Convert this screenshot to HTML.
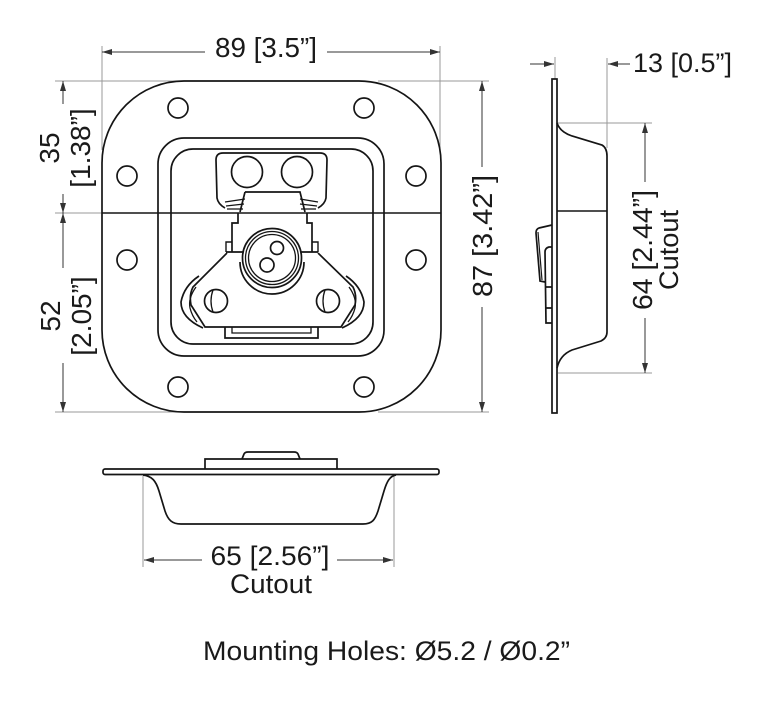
<!DOCTYPE html>
<html>
<head>
<meta charset="utf-8">
<style>
html,body{margin:0;padding:0;background:#fff;}
svg{display:block;}
text{font-family:"Liberation Sans",Arial,sans-serif;fill:#1a1a1a;}
</style>
</head>
<body>
<svg width="774" height="704" viewBox="0 0 774 704" xmlns="http://www.w3.org/2000/svg">
<defs>
<marker id="a" viewBox="0 0 10 6" refX="10" refY="3" markerWidth="10" markerHeight="6" markerUnits="userSpaceOnUse" orient="auto">
<path d="M0,0 L10,3 L0,6 Z" fill="#333"/>
</marker>
</defs>

<!-- ============ FRONT VIEW ============ -->
<g fill="none" stroke="#999" stroke-width="1">
  <!-- extension lines -->
  <line x1="102" y1="46" x2="102" y2="150"/>
  <line x1="440" y1="46" x2="440" y2="150"/>
  <line x1="55" y1="81" x2="185" y2="81"/>
  <line x1="378" y1="81" x2="489" y2="81"/>
  <line x1="55" y1="412" x2="185" y2="412"/>
  <line x1="378" y1="412" x2="489" y2="412"/>
  <line x1="55" y1="213" x2="102" y2="213"/>
</g>
<g fill="none" stroke="#333" stroke-width="1">
  <!-- 89 dim -->
  <line x1="205" y1="52" x2="102" y2="52" marker-end="url(#a)"/>
  <line x1="327" y1="52" x2="440" y2="52" marker-end="url(#a)"/>
  <!-- 35 dim -->
  <line x1="63" y1="104" x2="63" y2="81" marker-end="url(#a)"/>
  <line x1="63" y1="194" x2="63" y2="213" marker-end="url(#a)"/>
  <!-- 52 dim -->
  <line x1="63" y1="268" x2="63" y2="213" marker-end="url(#a)"/>
  <line x1="63" y1="363" x2="63" y2="412" marker-end="url(#a)"/>
  <!-- 87 dim -->
  <line x1="482" y1="167" x2="482" y2="81" marker-end="url(#a)"/>
  <line x1="482" y1="307" x2="482" y2="412" marker-end="url(#a)"/>
</g>

<g fill="none" stroke="#151515" stroke-width="1.7">
  <!-- plate outline -->
  <path d="M184,81 L359,81 A82,82 0 0 1 441,163 L441,330 A82,82 0 0 1 359,412 L184,412 A82,82 0 0 1 102,330 L102,163 A82,82 0 0 1 184,81 Z"/>
  <!-- centre line -->
  <line x1="102" y1="213" x2="441" y2="213" stroke-width="1.4"/>
  <!-- holes -->
  <circle cx="178" cy="108" r="10"/>
  <circle cx="364" cy="108" r="10"/>
  <circle cx="127" cy="176" r="10"/>
  <circle cx="416" cy="176" r="10"/>
  <circle cx="127" cy="260" r="10"/>
  <circle cx="416" cy="260" r="10"/>
  <circle cx="178" cy="387" r="10"/>
  <circle cx="364" cy="387" r="10"/>
  <!-- recess -->
  <rect x="158" y="138" width="226" height="218" rx="26" ry="26"/>
  <rect x="171" y="149" width="202" height="195" rx="22" ry="22"/>

  <!-- handle bracket -->
  <path d="M216,160 Q216,153 223,153 L320,153 Q327,153 327,160 L326,198 Q325,204 318,208 M216,160 L217,198 Q218,204 225,208"/>
  <circle cx="247" cy="172" r="15.5"/>
  <circle cx="297" cy="172" r="15.5"/>
  <!-- tabs -->
  <path d="M225,202 L245,199 M226,206 L244,204 M227,209 L243,209 M318,202 L300,199 M317,206 L300,204 M316,209 L301,209" stroke-width="1.3"/>
  <!-- centre block -->
  <path d="M245,192 L300,192 L305,212 M245,192 L240,212"/>
  <path d="M238,213 L238,223 L232,223 L232,252 M307,213 L307,223 L312,223 L312,252"/>
  <path d="M226,252 L226,242 L232,242 M318,252 L318,242 L312,242" stroke-width="1.4"/>
  <!-- wing -->
  <path d="M226,252 L318,252 M227,253 L193,287 Q189,295 191,305 L205,327 L341,327 L355,305 Q357,295 353,287 L318,253"/>
  <!-- lobes -->
  <path d="M199,276 Q184,286 181,302 Q181,318 203,328"/>
  <path d="M196,287 Q188,298 190,308 Q192,316 197,322" stroke-width="1.3"/>
  <path d="M346,276 Q361,286 364,302 Q364,318 342,328"/>
  <path d="M349,287 Q357,298 355,308 Q353,316 348,322" stroke-width="1.3"/>
  <!-- screws -->
  <circle cx="216" cy="301" r="11.5"/>
  <path d="M213,290 Q209,301 213,312" stroke-width="1.3"/>
  <circle cx="328" cy="301" r="11.5"/>
  <path d="M325,290 Q321,301 325,312" stroke-width="1.3"/>
  <!-- disk -->
  <path d="M240,262 A32,32 0 0 0 304,262" fill="#fff"/>
  <circle cx="272" cy="258" r="29.5" fill="#fff"/>
  <circle cx="272" cy="258" r="26.5" stroke-width="1.3"/>
  <circle cx="272" cy="258" r="23.5" stroke-width="1.3"/>
  <circle cx="277" cy="248" r="6.5"/>
  <circle cx="267" cy="265" r="7"/>
  <!-- bottom piece -->
  <path d="M225,327 L225,338 L318,338 L318,327"/>
  <path d="M232,327 L232,333 L311,333 L311,327" stroke-width="1.3"/>
</g>

<text x="266" y="57" font-size="28" text-anchor="middle" textLength="102" lengthAdjust="spacingAndGlyphs">89 [3.5”]</text>
<g transform="translate(59,148) rotate(-90)">
  <text x="0" y="0" font-size="28" text-anchor="middle">35</text>
  <text x="0" y="31" font-size="28" text-anchor="middle">[1.38”]</text>
</g>
<g transform="translate(60,316) rotate(-90)">
  <text x="0" y="0" font-size="28" text-anchor="middle">52</text>
  <text x="0" y="31" font-size="28" text-anchor="middle">[2.05”]</text>
</g>
<g transform="translate(492,236) rotate(-90)">
  <text x="0" y="0" font-size="28" text-anchor="middle" textLength="122" lengthAdjust="spacingAndGlyphs">87 [3.42”]</text>
</g>

<!-- ============ SIDE VIEW ============ -->
<g fill="none" stroke="#999" stroke-width="1">
  <line x1="555" y1="57" x2="555" y2="79"/>
  <line x1="607" y1="58" x2="607" y2="148"/>
  <line x1="558" y1="123" x2="652" y2="123"/>
  <line x1="558" y1="373" x2="652" y2="373"/>
</g>
<g fill="none" stroke="#333" stroke-width="1">
  <line x1="530" y1="64" x2="554" y2="64" marker-end="url(#a)"/>
  <line x1="630" y1="64" x2="608" y2="64" marker-end="url(#a)"/>
  <line x1="645" y1="182" x2="645" y2="123" marker-end="url(#a)"/>
  <line x1="645" y1="318" x2="645" y2="373" marker-end="url(#a)"/>
</g>
<g fill="none" stroke="#151515" stroke-width="1.7">
  <rect x="552" y="79" width="5" height="334"/>
  <path d="M557,123 Q560,132 572,136 Q592,142 602,145 Q607,148 607,156 L607,332 Q607,338 601,341 Q588,345 572,350 Q560,355 557,368"/>
  <line x1="557" y1="211" x2="607" y2="211" stroke-width="1.4"/>
  <!-- latch side -->
  <path d="M552,225 L539,228 Q536,229 536,233 L540,281 L545,282"/>
  <path d="M538,232 L542,280" stroke-width="1.2"/>
  <path d="M552,247 L549,247 Q545,248 545,252 L546,323 L552,323 M546,287 L552,287 M546,308 L552,308"/>
</g>
<text x="633" y="72" font-size="27" textLength="99" lengthAdjust="spacingAndGlyphs">13 [0.5”]</text>
<g transform="translate(652,250) rotate(-90)">
  <text x="0" y="0" font-size="28" text-anchor="middle" textLength="120" lengthAdjust="spacingAndGlyphs">64 [2.44”]</text>
  <text x="0" y="26" font-size="27" text-anchor="middle" textLength="80" lengthAdjust="spacingAndGlyphs">Cutout</text>
</g>

<!-- ============ BOTTOM VIEW ============ -->
<g fill="none" stroke="#999" stroke-width="1">
  <line x1="143" y1="476" x2="143" y2="567"/>
  <line x1="394" y1="476" x2="394" y2="567"/>
</g>
<g fill="none" stroke="#333" stroke-width="1">
  <line x1="202" y1="560" x2="144" y2="560" marker-end="url(#a)"/>
  <line x1="337" y1="560" x2="393" y2="560" marker-end="url(#a)"/>
</g>
<g fill="none" stroke="#151515" stroke-width="1.7">
  <rect x="103" y="469" width="336" height="5.5" rx="2" ry="2"/>
  <path d="M205,469 L205,459 L337,459 L337,469"/>
  <path d="M242,459 L244,454 Q245,452 248,452 L294,452 Q297,452 298,454 L300,459"/>
  <path d="M143,475 C152,476 156,481 159,491 L165,511 C168,520 172,524 181,524 L363,524 C372,524 375,520 378,511 L384,491 C387,481 390,476 396,475"/>
</g>
<text x="270" y="565" font-size="27" text-anchor="middle" textLength="119" lengthAdjust="spacingAndGlyphs">65 [2.56”]</text>
<text x="271" y="593" font-size="27" text-anchor="middle" textLength="82" lengthAdjust="spacingAndGlyphs">Cutout</text>

<text x="386.5" y="660" font-size="27" text-anchor="middle" textLength="367" lengthAdjust="spacingAndGlyphs">Mounting Holes: Ø5.2 / Ø0.2”</text>
</svg>
</body>
</html>
